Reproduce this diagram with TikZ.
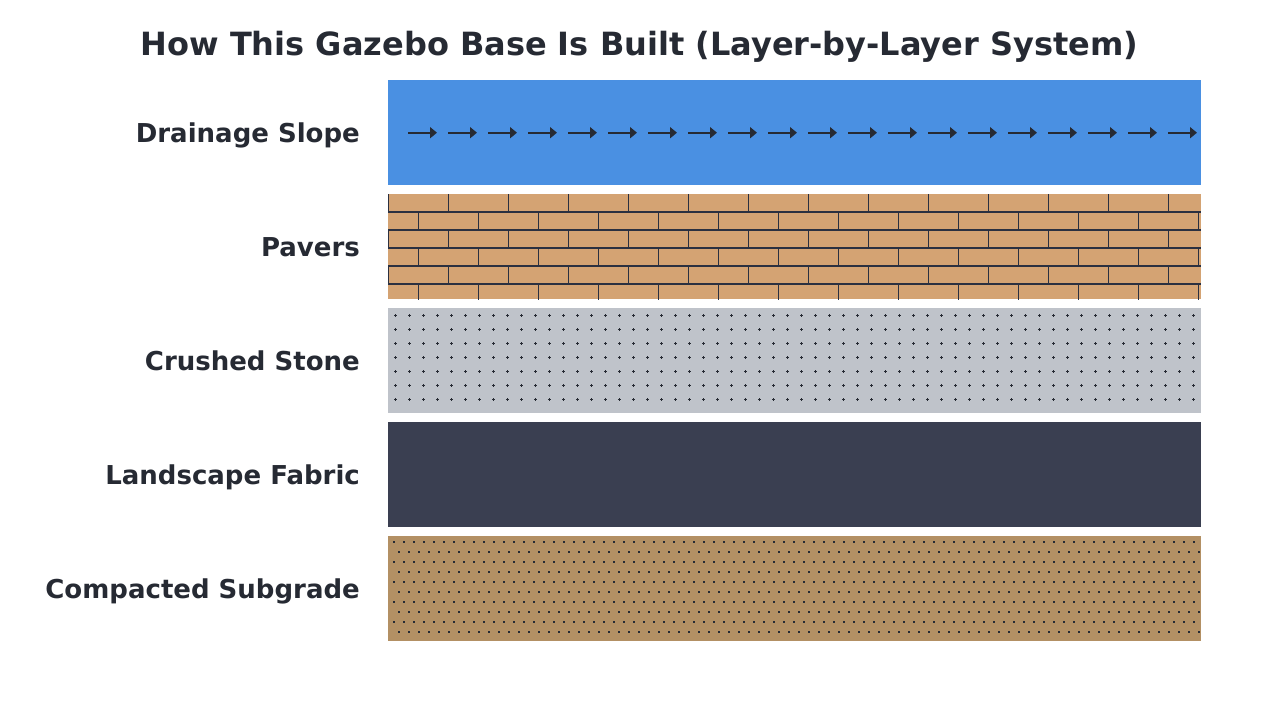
\documentclass[tikz,border=0pt]{standalone}
\usepackage{fontspec}
\setmainfont{DejaVu Sans}
\usetikzlibrary{arrows.meta}
\definecolor{ink}{HTML}{262A33}
\definecolor{brickline}{HTML}{2B3040}
\definecolor{drainblue}{HTML}{4A90E2}
\definecolor{paver}{HTML}{D4A373}
\definecolor{stone}{HTML}{BFC3CA}
\definecolor{fabric}{HTML}{3A3F51}
\definecolor{subgrade}{HTML}{B39064}
\tikzset{
  band/.style={draw=none, inner sep=0pt, minimum width=813pt, minimum height=105pt},
  layerlabel/.style={anchor=base east, inner sep=0pt, text=ink, font=\bfseries\fontsize{26}{30}\selectfont},
  flowarrow/.style={draw=ink, line width=2pt, -{Triangle[length=7pt,width=11pt]}},
}
\begin{document}
\begin{tikzpicture}[x=1pt,y=-1pt]
\useasboundingbox[fill=white] (0,0) rectangle (1280,720);
\node[anchor=base, inner sep=0pt, text=ink, font=\bfseries\fontsize{32}{38}\selectfont] (title) at (639.5,55) {How This Gazebo Base Is Built (Layer-by-Layer System)};

% bands
\node[band, fill=drainblue] (drain) at (794.5,132.5) {};
\node[band, fill=paver] (pavers) at (794.5,246.5) {};
\node[band, fill=stone] (stone) at (794.5,360.5) {};
\node[band, fill=fabric] (fabric) at (794.5,474.5) {};
\node[band, fill=subgrade] (sub) at (794.5,588.5) {};

% labels
\node[layerlabel] (ldrain) at (360,142.8) {Drainage Slope};
\node[layerlabel] (lpavers) at (360,256.8) {Pavers};
\node[layerlabel] (lstone) at (360,370.8) {Crushed Stone};
\node[layerlabel] (lfabric) at (360,484.8) {Landscape Fabric};
\node[layerlabel] (lsub) at (360,598.8) {Compacted Subgrade};

% drainage arrows
\foreach \i in {0,...,19} {
  \draw[flowarrow] (408+40*\i,132.7) -- (437+40*\i,132.7);
}

% pavers brick pattern
\begin{scope}
\clip (pavers.south west) rectangle (pavers.north east);
\foreach \r in {1,...,5} {
  \draw[brickline, line width=1.3pt] (388,194+18*\r) -- (1201,194+18*\r);
}
\foreach \r in {0,2,4} {
  \foreach \k in {0,...,13} {
    \draw[brickline, line width=1.3pt] (388.7+60*\k,194+18*\r) -- (388.7+60*\k,212+18*\r);
  }
}
\foreach \r in {1,3,5} {
  \foreach \k in {0,...,13} {
    \draw[brickline, line width=1.3pt] (418.3+60*\k,194+18*\r) -- (418.3+60*\k,212+18*\r);
  }
}
\end{scope}

% crushed stone plus marks
\foreach \r in {0,...,6} {
  \foreach \c in {0,...,57} {
    \draw[ink, line width=0.9pt] (394+14*\c,315.7+14*\r) -- (396.6+14*\c,315.7+14*\r)
      (395.3+14*\c,314.4+14*\r) -- (395.3+14*\c,317+14*\r);
  }
}

% subgrade dots
\foreach \r in {0,2,...,8} {
  \foreach \c in {0,...,80} {
    \fill[ink] (393+10*\c,541+10*\r) rectangle (395+10*\c,543+10*\r);
  }
}
\foreach \r in {1,3,...,9} {
  \foreach \c in {0,...,80} {
    \fill[ink] (398+10*\c,541+10*\r) rectangle (400+10*\c,543+10*\r);
  }
}
\end{tikzpicture}
\end{document}
